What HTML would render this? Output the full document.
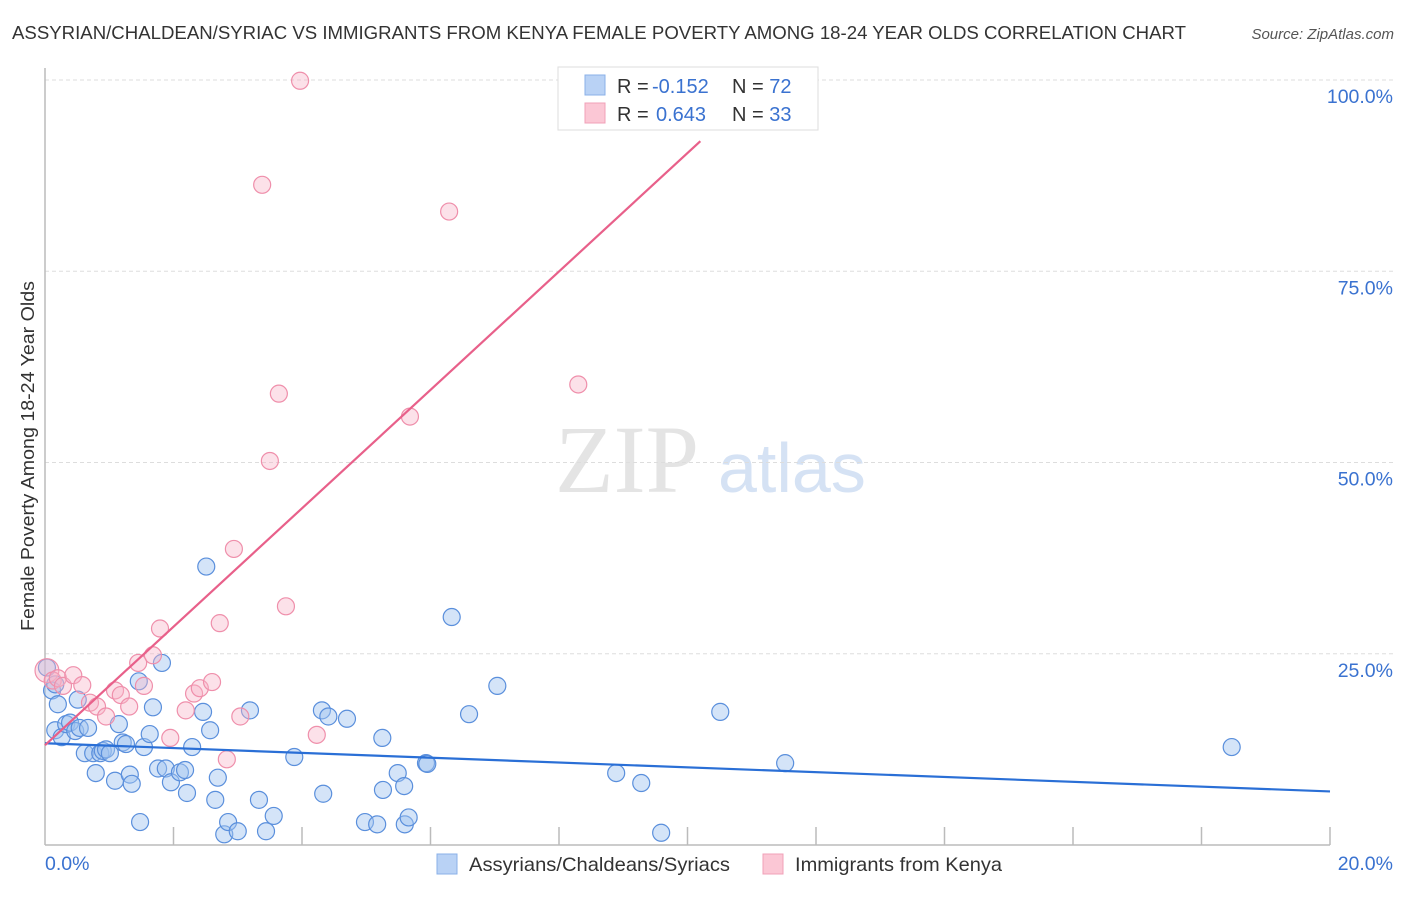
<!DOCTYPE html>
<html><head><meta charset="utf-8"><style>
body{margin:0;background:#fff;font-family:"Liberation Sans",sans-serif}
</style></head><body>
<svg id="chart" width="1406" height="892" xmlns="http://www.w3.org/2000/svg" style="font-family:'Liberation Sans',sans-serif">
<text x="12" y="39" font-size="18" fill="#333" textLength="1174" lengthAdjust="spacingAndGlyphs">ASSYRIAN/CHALDEAN/SYRIAC VS IMMIGRANTS FROM KENYA FEMALE POVERTY AMONG 18-24 YEAR OLDS CORRELATION CHART</text>
<text x="1394" y="39" font-size="15" fill="#555" font-style="italic" text-anchor="end">Source: ZipAtlas.com</text>
<text x="555" y="492" font-size="96" fill="#e4e4e4" font-family="Liberation Serif,serif">ZIP</text>
<text x="718" y="492" font-size="70" fill="#d5e2f4">atlas</text>
<text transform="translate(34,631) rotate(-90)" font-size="18" fill="#333" textLength="350" lengthAdjust="spacingAndGlyphs">Female Poverty Among 18-24 Year Olds</text>
<g id="grid"></g><g id="axes"></g><g id="pts"></g><g id="lines"></g>
<g>
<rect x="558" y="67" width="260" height="63" fill="#fff" stroke="#ddd"/>
<rect x="585" y="75" width="20" height="20" fill="#b9d2f5" stroke="#8ab0e8"/>
<rect x="585" y="103" width="20" height="20" fill="#fbc7d5" stroke="#f0a0b8"/>
<text x="617" y="93" font-size="20" fill="#333">R = <tspan fill="#3a72d0" x="652">-0.152</tspan><tspan x="732">N = </tspan><tspan fill="#3a72d0">72</tspan></text>
<text x="617" y="121" font-size="20" fill="#333">R = <tspan fill="#3a72d0" x="656">0.643</tspan><tspan x="732">N = </tspan><tspan fill="#3a72d0">33</tspan></text>
</g>
<g>
<rect x="437" y="854" width="20" height="20" fill="#b9d2f5" stroke="#8ab0e8"/>
<text x="469" y="871" font-size="19.5" fill="#333" textLength="261" lengthAdjust="spacingAndGlyphs">Assyrians/Chaldeans/Syriacs</text>
<rect x="763" y="854" width="20" height="20" fill="#fbc7d5" stroke="#f0a0b8"/>
<text x="795" y="871" font-size="19.5" fill="#333" textLength="207" lengthAdjust="spacingAndGlyphs">Immigrants from Kenya</text>
</g>
</svg>
<script>
const yTicks=[25,50,75,100];
const yTickLabels=["25.0%","50.0%","75.0%","100.0%"];
const xTickCount=[2,4,6,8,10,12,14,16,18,20];
const blueX=[0.03,0.11,0.16,0.2,0.26,0.33,0.39,0.47,0.51,0.54,0.62,0.67,0.75,0.79,0.86,0.9,0.95,1.01,1.09,1.15,1.21,1.26,1.32,1.35,1.46,1.48,1.54,1.63,1.68,1.76,1.82,1.88,1.96,2.1,2.18,2.21,2.29,2.46,2.51,2.57,2.65,2.69,2.79,2.85,3.0,3.19,3.33,3.44,3.56,3.88,4.31,4.33,4.41,4.7,4.98,5.17,5.25,5.26,5.49,5.59,5.6,5.66,5.93,5.95,6.33,6.6,7.04,8.89,9.28,9.59,10.51,11.52,18.47,0.16];
const blueY=[23.2,20.2,15,18.4,14.1,15.8,16,14.9,19,15.3,12,15.3,12,9.4,12,12.3,12.5,12,8.4,15.8,13.4,13.2,9.2,8,21.4,3,12.8,14.5,18,10,23.8,10,8.2,9.5,9.8,6.8,12.8,17.4,36.4,15,5.9,8.8,1.4,3,1.8,17.6,5.9,1.8,3.8,11.5,17.6,6.7,16.8,16.5,3,2.7,14,7.2,9.4,7.7,2.7,3.6,10.7,10.6,29.8,17.1,20.8,9.4,8.1,1.6,17.4,10.7,12.8,21];
const pinkX=[0.03,0.12,0.2,0.28,0.44,0.58,0.7,0.81,0.95,1.09,1.18,1.31,1.45,1.54,1.68,1.79,1.95,2.19,2.32,2.41,2.6,2.72,2.83,2.94,3.04,3.38,3.5,3.64,3.75,3.97,4.23,5.68,6.29,8.3];
const pinkY=[22.8,21.5,21.8,20.8,22.2,20.9,18.6,18.1,16.8,20.2,19.6,18.1,23.8,20.8,24.8,28.3,14,17.6,19.8,20.5,21.3,29,11.2,38.7,16.8,86.3,50.2,59,31.2,99.9,14.4,56,82.8,60.2];
const pinkR=[14,10,10,10,10,10,10,10,10,10,10,10,10,10,10,10,10,10,10,10,10,10,10,10,10,10,10,10,10,10,10,10,10,10];
const blueLine=[0,13.3,20,7.0];
const pinkLine=[0,13.05,10.2,92];
const L=45,R=1330,B=845,T=80;
const sx=v=>L+(R-L)*v/20, sy=v=>B-(B-T)*v/100;
const NS='http://www.w3.org/2000/svg';
function mk(tag,attrs,parent){const e=document.createElementNS(NS,tag);for(const k in attrs)e.setAttribute(k,attrs[k]);document.getElementById(parent).appendChild(e);return e;}
yTicks.forEach((t,i)=>{
 const g=mk('line',{x1:L,x2:1393,y1:sy(t),y2:sy(t),stroke:'#ddd','stroke-dasharray':'4,3'},'grid');
 
 
 const tx=mk('text',{x:1393,y:sy(t)+23,'font-size':19.5,fill:'#3a72d0','text-anchor':'end'},'grid');
 tx.textContent=yTickLabels[i];
 
 
});
const ax=mk('line',{x1:L,x2:L,y1:68,y2:B,stroke:'#bbb','stroke-width':1.5},'axes');


const bx=mk('line',{x1:L,x2:R,y1:B,y2:B,stroke:'#bbb','stroke-width':1.5},'axes');


xTickCount.forEach(t=>{const k=mk('line',{x1:sx(t),x2:sx(t),y1:B,y2:B-18,stroke:'#bbb','stroke-width':1.5},'axes');
 
 });
[[0,'0.0%',L,'start'],[20,'20.0%',1393,'end']].forEach(a=>{const t=mk('text',{x:a[2],y:870,'font-size':19.5,fill:'#3a72d0','text-anchor':a[3]},'axes');t.textContent=a[1];
 
 });
blueX.forEach((x,i)=>{const c=mk('circle',{cx:sx(x),cy:sy(blueY[i]),r:8.5,fill:'rgba(160,195,240,0.45)',stroke:'#5a8fdc','stroke-width':1.2},'pts');
 
 });
pinkX.forEach((x,i)=>{const c=mk('circle',{cx:sx(x),cy:sy(pinkY[i]),r:pinkR[i]*0.85,fill:'rgba(248,180,200,0.4)',stroke:'#ef8fab','stroke-width':1.2},'pts');
 
 });
const bl=mk('line',{x1:sx(blueLine[0]),y1:sy(blueLine[1]),x2:sx(blueLine[2]),y2:sy(blueLine[3]),stroke:'#2a6fd6','stroke-width':2.2},'lines');


const pl=mk('line',{x1:sx(pinkLine[0]),y1:sy(pinkLine[1]),x2:sx(pinkLine[2]),y2:sy(pinkLine[3]),stroke:'#e8608a','stroke-width':2.2},'lines');


</script>
</body></html>
